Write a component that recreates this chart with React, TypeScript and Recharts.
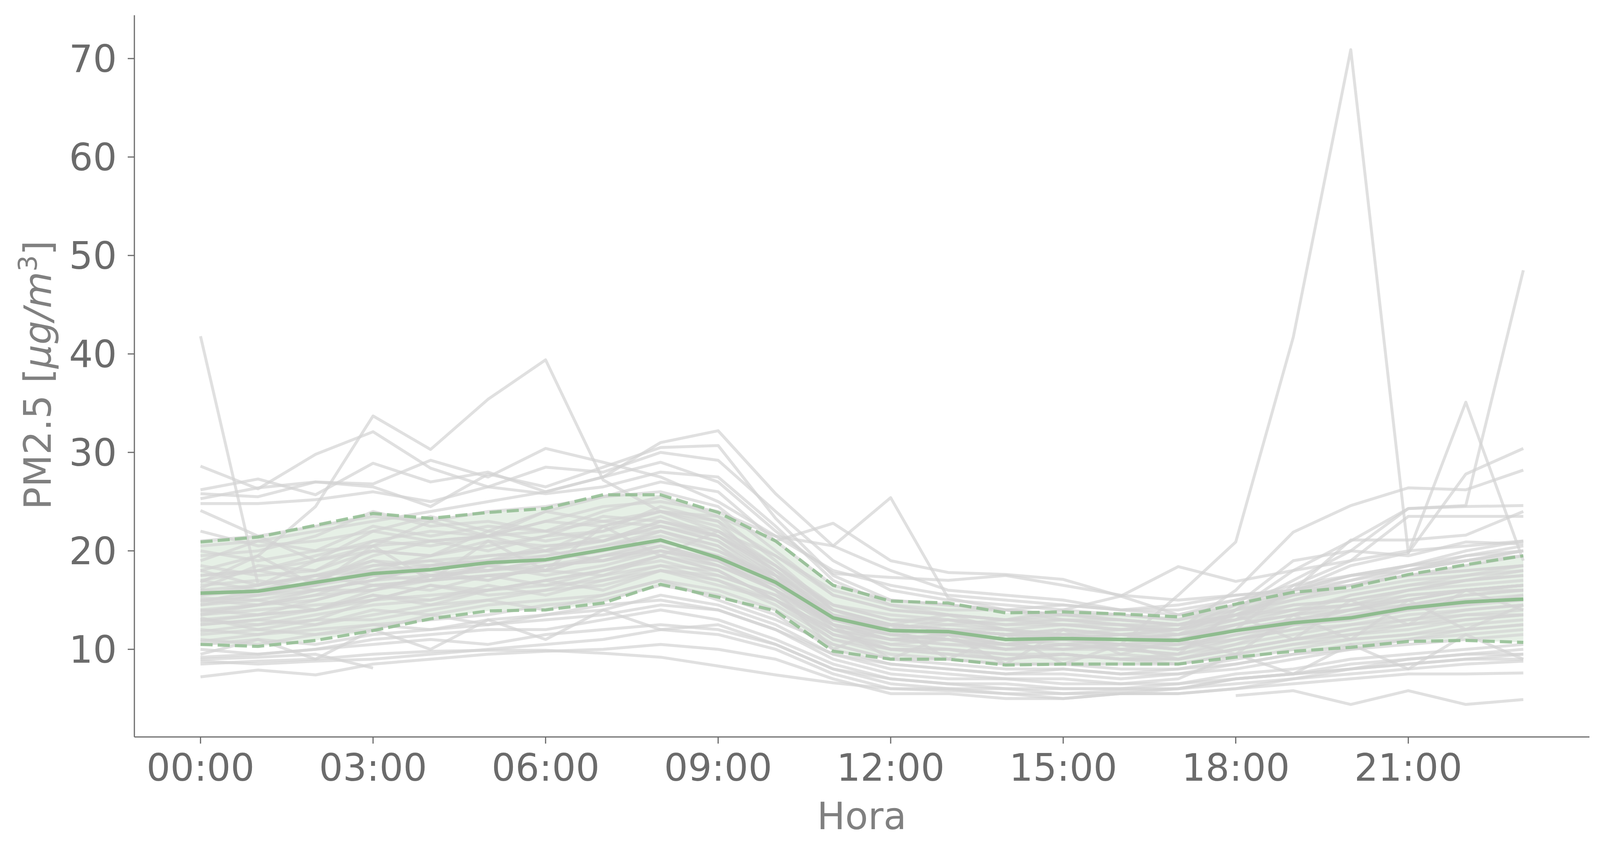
import React from 'react';
import { ComposedChart, Line, Area, XAxis, YAxis, Label } from 'recharts';

const N = null;

// hours of the day
const HOURS = [0, 1, 2, 3, 4, 5, 6, 7, 8, 9, 10, 11, 12, 13, 14, 15, 16, 17, 18, 19, 20, 21, 22, 23];
const HOUR_TICKS = [0, 3, 6, 9, 12, 15, 18, 21];
const TICK_LABELS = ['00:00', '03:00', '06:00', '09:00', '12:00', '15:00', '18:00', '21:00'];
const Y_TICKS = [10, 20, 30, 40, 50, 60, 70];

// hourly mean and mean +/- std
const MEAN = [15.7, 15.9, 16.8, 17.7, 18.1, 18.8, 19.1, 20.1, 21.1, 19.3, 16.8, 13.2, 11.9, 11.8, 11.0, 11.1, 11.0, 10.9, 11.9, 12.7, 13.2, 14.2, 14.8, 15.1];
const UPPER = [20.9, 21.4, 22.6, 23.8, 23.3, 23.9, 24.3, 25.7, 25.7, 23.9, 21.0, 16.5, 14.9, 14.7, 13.7, 13.8, 13.6, 13.3, 14.6, 15.8, 16.3, 17.6, 18.6, 19.5];
const LOWER = [10.5, 10.3, 10.9, 11.9, 13.1, 13.9, 14.0, 14.7, 16.6, 15.3, 13.9, 9.8, 9.0, 9.0, 8.4, 8.5, 8.5, 8.5, 9.2, 9.8, 10.2, 10.8, 10.9, 10.7];

// one row per day
const DAYS: (number | null)[][] = [
  [41.8, 16.6, 17.5, 19.0, 18.5, 19.5, 20.0, 21.5, 22.0, 20.5, 17.0, 12.5, 11.5, 11.0, 10.0, 10.5, 10.0, 9.5, 11.0, 12.0, 12.5, 13.5, 14.0, 14.5],
  [18.0, 19.5, 24.5, 33.7, 30.3, 35.4, 39.4, 27.2, 24.0, 22.5, 18.5, 14.0, 12.5, 12.0, 11.5, 11.0, 11.5, 11.0, 12.5, 13.5, 14.0, 15.0, 16.0, 16.5],
  [28.6, 26.3, 29.8, 32.1, 28.4, 26.5, 25.8, 26.5, 28.0, 27.5, 22.5, 17.0, 14.5, 13.5, 13.0, 13.0, 12.5, 12.0, 13.5, 15.5, 16.5, 18.0, 19.5, 20.0],
  [26.2, 27.3, 25.7, 28.9, 27.0, 28.0, 26.0, 27.5, 31.0, 32.2, 25.8, 20.5, 18.0, 16.0, 15.5, 15.0, 14.0, 13.5, 15.0, 16.0, 17.5, 18.5, 19.0, 19.5],
  [25.8, 25.5, 27.0, 26.5, 24.5, 27.8, 26.5, 28.5, 30.5, 30.7, 23.3, 17.5, 15.0, 14.5, 14.0, 13.0, 13.0, 12.5, 14.0, 15.5, 16.5, 17.5, 18.0, 18.5],
  [25.3, 26.4, 27.0, 26.8, 29.2, 27.5, 30.4, 29.0, 27.5, 25.0, 21.5, 18.0, 16.5, 15.5, 15.0, 14.5, 14.0, 14.5, 15.5, 16.0, 17.0, 18.5, 20.0, 21.0],
  [24.8, 24.8, 25.2, 26.0, 25.0, 26.5, 28.5, 28.0, 30.0, 29.2, 24.0, 19.0, 16.0, 15.0, 14.5, 14.0, 13.5, 13.0, 14.0, 15.0, 16.0, 17.0, 17.5, 18.0],
  [24.1, 21.5, 19.0, 22.0, 23.5, 22.0, 24.0, 25.5, 27.0, 26.0, 21.0, 22.8, 19.0, 17.8, 17.6, 17.1, 15.4, 13.5, 14.5, 15.5, 17.0, 18.0, 19.0, 20.0],
  [17.0, 18.0, 19.5, 21.0, 22.0, 21.5, 23.0, 24.5, 25.0, 24.0, 21.5, 20.5, 25.4, 15.2, 14.0, 13.5, 13.0, 12.5, 13.5, 14.5, 15.0, 16.0, 16.5, 17.0],
  [14.0, 14.5, 15.0, 16.5, 17.0, 17.5, 18.0, 19.5, 20.5, 19.0, 16.5, 14.0, 12.0, 12.5, 13.0, 14.0, 15.4, 18.4, 16.9, 18.0, 19.0, 20.0, 20.5, 21.0],
  [13.0, 13.5, 14.0, 15.0, 15.5, 16.0, 16.5, 17.0, 18.0, 17.0, 15.0, 12.0, 11.0, 10.5, 10.0, 10.0, 10.5, 15.5, 20.9, 41.7, 70.9, 19.8, 35.1, 19.0],
  [15.0, 15.5, 16.0, 17.0, 17.5, 18.0, 18.5, 19.0, 20.0, 19.0, 16.0, 13.0, 12.5, 12.0, 11.5, 11.5, 11.0, 11.5, 14.0, 18.0, 21.0, 24.3, 24.6, 48.5],
  [16.0, 16.5, 17.5, 18.5, 19.0, 19.5, 20.0, 21.0, 22.5, 21.0, 17.5, 14.0, 12.5, 12.0, 11.5, 11.0, 11.5, 12.0, 13.5, 16.0, 18.5, 19.8, 27.8, 30.4],
  [17.5, 18.0, 19.0, 20.5, 21.0, 21.5, 22.0, 23.0, 24.0, 23.0, 19.5, 15.5, 14.0, 13.5, 13.0, 12.5, 12.0, 12.0, 16.0, 21.9, 24.6, 26.4, 26.2, 28.2],
  [12.5, 13.0, 14.0, 15.5, 15.0, 16.0, 17.0, 18.0, 19.5, 18.0, 15.0, 11.5, 10.0, 10.0, 9.5, 9.5, 9.0, 9.5, 14.0, 17.0, 20.0, 24.3, 24.5, 24.6],
  [13.5, 14.5, 15.5, 16.0, 17.5, 17.0, 18.5, 19.5, 20.0, 19.0, 16.0, 12.5, 11.5, 11.0, 10.5, 11.0, 10.5, 10.0, 12.0, 16.5, 19.0, 23.5, 23.5, 23.5],
  [14.5, 15.5, 16.5, 17.5, 17.0, 18.5, 19.5, 20.5, 22.0, 20.0, 17.0, 13.0, 12.0, 11.5, 11.0, 11.0, 11.0, 11.5, 13.0, 16.0, 21.1, 21.1, 21.6, 24.0],
  [15.5, 16.0, 16.5, 18.0, 18.5, 19.0, 20.5, 21.0, 23.0, 21.5, 18.5, 14.0, 12.5, 12.0, 12.0, 11.5, 11.5, 12.0, 14.5, 19.0, 20.0, 19.5, 20.9, 20.7],
  [N, N, N, N, N, N, N, N, N, N, N, N, N, N, N, N, N, N, 5.3, 5.8, 4.4, 5.8, 4.4, 4.9],
  [9.0, 9.2, 9.5, 8.1, N, N, N, N, N, N, N, N, N, N, N, N, N, N, N, N, N, N, N, N],
  [7.2, 7.9, 7.4, 8.5, 9.0, 9.5, 9.8, 10.0, 10.5, 10.0, 9.0, 7.0, 5.5, 5.5, 5.0, 5.0, 5.5, 5.5, 6.0, 6.5, 7.0, 7.5, 7.5, 7.6],
  [8.5, 8.8, 9.0, 9.5, 9.8, 9.9, 9.9, 9.6, 9.2, 8.3, 7.4, 6.6, 6.0, 5.8, 5.5, 5.5, 5.8, 6.0, 7.0, 7.5, 8.0, 8.5, 9.0, 9.0],
  [21.0, 21.5, 22.5, 23.5, 23.0, 24.0, 24.5, 25.5, 26.0, 24.5, 20.0, 15.5, 14.0, 13.5, 13.0, 13.5, 13.0, 12.5, 13.5, 15.0, 16.5, 17.5, 18.5, 19.5],
  [19.5, 20.0, 21.5, 24.0, 22.5, 23.0, 22.0, 24.0, 25.5, 23.5, 19.0, 14.0, 12.5, 12.0, 11.5, 12.0, 11.5, 11.0, 12.5, 14.0, 15.5, 16.5, 17.0, 17.5],
  [18.5, 17.5, 18.0, 21.0, 20.5, 21.5, 23.0, 22.5, 24.0, 22.0, 18.5, 14.5, 13.0, 12.5, 12.0, 11.5, 12.0, 12.5, 13.0, 14.5, 15.0, 16.0, 17.0, 18.0],
  [17.5, 18.0, 17.0, 19.5, 21.0, 20.0, 21.5, 23.5, 23.0, 21.5, 18.0, 13.5, 12.0, 13.0, 12.0, 11.0, 10.5, 11.0, 12.0, 13.0, 14.0, 15.5, 16.0, 16.5],
  [17.0, 16.0, 17.5, 18.0, 19.5, 21.0, 20.5, 21.0, 22.5, 21.0, 17.0, 13.0, 11.5, 11.0, 10.5, 10.0, 10.5, 10.0, 11.5, 12.5, 13.5, 14.5, 15.0, 15.5],
  [16.5, 17.0, 16.0, 17.0, 18.5, 19.0, 19.5, 20.5, 21.5, 20.0, 17.5, 14.5, 13.5, 13.0, 12.5, 12.5, 12.0, 12.0, 13.0, 14.0, 14.5, 16.0, 17.0, 17.5],
  [16.0, 15.5, 17.0, 19.0, 17.5, 18.0, 19.0, 20.0, 22.0, 20.5, 16.5, 12.5, 11.0, 11.5, 10.5, 11.0, 10.5, 10.5, 13.5, 11.0, 15.0, 12.5, 16.0, 14.0],
  [15.5, 16.5, 17.5, 16.5, 17.0, 18.5, 18.0, 19.5, 21.0, 19.5, 17.0, 13.5, 12.0, 11.5, 11.0, 11.5, 11.0, 11.5, 12.0, 13.0, 13.0, 14.5, 15.5, 16.0],
  [15.0, 14.5, 15.5, 17.5, 18.0, 17.0, 18.5, 19.0, 20.5, 19.0, 16.0, 10.0, 12.5, 9.0, 11.5, 8.5, 10.5, 9.0, 10.5, 11.5, 12.5, 13.0, 14.0, 14.5],
  [14.5, 15.0, 14.0, 16.0, 17.5, 18.5, 17.5, 18.5, 20.0, 18.5, 16.5, 13.0, 11.5, 12.0, 11.0, 10.5, 11.0, 10.5, 11.0, 12.0, 13.5, 14.0, 15.0, 15.0],
  [14.0, 13.5, 15.0, 16.5, 16.0, 17.5, 18.0, 17.5, 19.5, 18.0, 15.0, 11.5, 10.5, 10.0, 9.0, 9.5, 9.0, 9.0, 10.0, 11.0, 12.0, 12.5, 13.5, 14.0],
  [13.5, 14.0, 14.5, 15.0, 16.5, 16.0, 17.0, 18.0, 19.0, 17.5, 15.5, 12.5, 9.0, 11.5, 8.5, 12.0, 9.5, 11.0, 9.5, 13.5, 11.0, 15.0, 12.0, 14.5],
  [13.0, 12.5, 13.5, 14.5, 15.0, 16.5, 15.5, 17.0, 18.5, 17.0, 14.5, 11.0, 9.5, 9.0, 8.5, 8.5, 8.0, 8.0, 9.0, 10.0, 11.0, 11.5, 12.5, 13.0],
  [12.5, 13.0, 12.5, 13.5, 14.5, 15.0, 16.0, 16.5, 18.0, 16.5, 15.0, 12.0, 10.0, 9.5, 9.0, 9.5, 9.0, 8.5, 9.5, 10.5, 11.5, 12.0, 13.0, 13.5],
  [12.0, 11.5, 12.5, 14.0, 13.5, 14.5, 15.0, 15.5, 17.0, 16.0, 14.0, 10.5, 9.0, 8.5, 8.0, 8.0, 7.5, 8.0, 8.5, 9.5, 10.5, 11.0, 12.0, 12.5],
  [11.5, 12.0, 11.5, 12.5, 13.0, 13.5, 14.5, 15.0, 16.5, 15.5, 13.5, 10.0, 8.5, 8.0, 7.5, 7.5, 7.0, 7.5, 8.0, 9.0, 10.0, 10.5, 11.0, 11.5],
  [11.0, 10.5, 11.5, 12.0, 13.5, 12.5, 13.5, 14.0, 15.5, 14.5, 12.5, 9.5, 8.0, 7.5, 7.0, 7.0, 6.5, 7.0, 9.5, 7.5, 10.5, 8.0, 11.5, 9.0],
  [10.5, 11.0, 10.5, 11.5, 12.0, 12.5, 13.0, 13.5, 14.5, 14.0, 12.0, 9.0, 7.5, 7.0, 7.0, 6.5, 6.5, 6.5, 7.5, 8.0, 9.0, 9.5, 10.0, 10.5],
  [10.0, 9.5, 10.0, 11.0, 11.5, 12.0, 12.0, 13.0, 14.0, 13.0, 11.0, 8.5, 7.0, 6.5, 6.0, 6.0, 6.0, 6.5, 7.0, 7.5, 8.5, 9.0, 9.5, 10.0],
  [9.5, 11.0, 9.0, 12.0, 10.0, 13.0, 11.0, 14.0, 12.0, 12.5, 10.5, 8.0, 6.5, 6.0, 6.0, 5.5, 5.5, 6.0, 6.5, 7.0, 8.0, 8.5, 9.0, 9.5],
  [8.8, 8.5, 8.8, 9.0, 9.5, 10.0, 10.5, 11.0, 12.0, 11.5, 10.0, 7.5, 6.0, 6.0, 5.5, 5.0, 5.5, 5.5, 6.0, 7.0, 7.5, 8.0, 8.5, 8.8],
  [20.0, 19.0, 20.0, 22.5, 21.5, 22.5, 22.0, 21.0, 23.0, 22.0, 19.5, 16.0, 14.5, 14.0, 14.0, 13.5, 13.5, 13.0, 14.5, 16.0, 17.5, 18.0, 19.0, 20.0],
  [19.0, 21.0, 20.0, 20.5, 23.0, 21.5, 24.0, 23.0, 22.5, 21.5, 18.0, 13.0, 12.5, 13.5, 12.0, 12.5, 12.5, 11.5, 12.5, 13.5, 15.5, 16.5, 17.5, 18.5],
  [18.0, 16.5, 19.0, 20.0, 19.5, 22.0, 21.0, 22.0, 24.5, 23.0, 17.5, 12.0, 10.5, 11.0, 10.0, 10.5, 10.0, 9.5, 10.5, 12.5, 14.0, 14.5, 15.5, 16.0],
  [16.8, 19.5, 16.5, 20.5, 17.0, 21.0, 18.0, 22.5, 19.5, 22.0, 18.0, 14.5, 13.0, 13.0, 12.5, 13.0, 12.5, 12.5, 13.5, 14.0, 14.5, 15.0, 16.0, 16.5],
  [15.2, 15.0, 16.0, 17.0, 18.5, 19.0, 20.0, 19.0, 20.5, 18.5, 16.0, 12.0, 11.0, 10.5, 10.5, 10.0, 10.0, 10.5, 11.5, 12.5, 13.0, 14.0, 14.5, 15.5],
  [14.8, 16.0, 16.5, 18.5, 19.0, 18.0, 19.0, 20.0, 21.0, 19.5, 17.5, 13.5, 12.5, 12.0, 11.5, 12.0, 11.5, 11.5, 12.5, 13.5, 14.5, 15.5, 16.0, 16.5],
  [13.8, 14.5, 16.0, 16.0, 17.0, 17.5, 16.5, 18.0, 19.5, 18.5, 16.0, 12.5, 11.0, 11.0, 10.0, 10.5, 10.5, 10.0, 11.0, 12.5, 13.0, 14.0, 14.5, 15.0],
  [12.8, 13.5, 14.0, 15.5, 14.5, 16.0, 17.0, 16.0, 18.0, 17.5, 15.5, 11.5, 10.0, 10.0, 9.5, 9.0, 9.5, 9.0, 10.0, 11.0, 11.5, 12.5, 13.0, 13.5],
  [11.8, 12.5, 13.0, 13.0, 14.0, 15.0, 14.0, 15.5, 17.0, 15.0, 13.0, 10.5, 9.0, 9.0, 8.5, 8.5, 8.5, 8.5, 9.5, 10.5, 11.0, 11.5, 12.0, 12.5],
  [10.8, 11.5, 12.0, 12.5, 12.0, 13.0, 13.5, 14.5, 15.0, 14.0, 12.0, 9.5, 8.5, 8.0, 7.5, 8.0, 7.5, 7.5, 8.5, 9.5, 10.0, 11.0, 11.5, 12.0],
  [9.2, 9.5, 10.0, 10.5, 11.0, 10.5, 11.5, 12.0, 12.5, 12.0, 10.5, 8.0, 7.0, 6.5, 6.5, 6.0, 6.0, 6.0, 7.0, 7.5, 8.0, 9.0, 9.5, 9.5],
  [16.2, 18.5, 18.0, 20.0, 19.5, 20.5, 21.5, 22.0, 23.5, 21.5, 17.5, 12.5, 11.0, 11.5, 10.5, 11.5, 11.0, 11.0, 12.0, 13.0, 14.0, 15.0, 16.0, 16.0],
  [13.2, 12.0, 13.0, 15.0, 16.5, 15.5, 16.0, 17.5, 18.5, 18.0, 15.0, 11.0, 10.0, 9.5, 9.0, 9.5, 9.0, 9.0, 10.0, 11.0, 12.0, 13.0, 13.5, 13.5],
  [22.0, 20.5, 21.0, 22.0, 21.0, 21.5, 20.0, 22.5, 24.0, 23.5, 21.0, 16.5, 15.0, 14.5, 14.0, 14.5, 14.0, 14.0, 15.0, 16.5, 17.5, 18.5, 19.5, 20.5],
  [20.5, 21.0, 22.0, 23.0, 24.0, 25.0, 26.0, 27.5, 29.0, 27.0, 22.0, 17.7, 17.3, 17.0, 17.5, 16.5, 15.5, 15.0, 15.5, 16.0, 16.5, 17.5, 18.0, 18.5],
];

const data = HOURS.map((h, i) => {
  const row: Record<string, any> = { hour: h, mean: MEAN[i], upper: UPPER[i], lower: LOWER[i], band: [LOWER[i], UPPER[i]] };
  DAYS.forEach((d, k) => { row['d' + k] = d[i]; });
  return row;
});

const FONT = '"DejaVu Sans", sans-serif';
const AXIS = '#6b6b6b';
const GREEN = '#8fbc8f';

const YTitle = () => (
  <text x={130} y={960} transform="rotate(-90, 130, 960)" textAnchor="middle" fontFamily={FONT} fontSize={96} fill="#808080">
    PM2.5 [<tspan fontStyle="italic">μg/m</tspan><tspan dy={-36} fontSize={66}>3</tspan><tspan dy={36}>]</tspan>
  </text>
);

const XTitle = () => (
  <text x={2206} y={2122} textAnchor="middle" fontFamily={FONT} fontSize={96} fill="#808080">Hora</text>
);

export default function App() {
  return (
    <div style={{ position: 'absolute', left: 0, top: 0, width: 4103, height: 2183, background: '#fff' }}>
      <ComposedChart width={4103} height={2183} data={data} margin={{ top: 39, right: 34, left: 0, bottom: 0 }}>
        <XAxis
          dataKey="hour"
          type="number"
          domain={[-1.15, 24.15]}
          allowDataOverflow
          ticks={HOUR_TICKS}
          tickFormatter={(v: number) => TICK_LABELS[HOUR_TICKS.indexOf(v)]}
          height={297}
          tickSize={17}
          tickMargin={27}
          stroke={AXIS}
          axisLine={{ stroke: AXIS, strokeWidth: 3 }}
          tickLine={{ stroke: AXIS, strokeWidth: 3 }}
          tick={{ fill: AXIS, fontSize: 96, fontFamily: FONT }}
        >
          <Label content={XTitle} />
        </XAxis>
        <YAxis
          type="number"
          domain={[1.1, 74.4]}
          allowDataOverflow
          ticks={Y_TICKS}
          width={344}
          tickSize={17}
          tickMargin={28}
          stroke={AXIS}
          axisLine={{ stroke: AXIS, strokeWidth: 3 }}
          tickLine={{ stroke: AXIS, strokeWidth: 3 }}
          tick={{ fill: AXIS, fontSize: 96, fontFamily: FONT }}
        >
          <Label content={YTitle} />
        </YAxis>
        <Area
          dataKey="band"
          stroke="none"
          fill={GREEN}
          fillOpacity={0.22}
          isAnimationActive={false}
          activeDot={false}
        />
        {DAYS.map((_, k) => (
          <Line
            key={k}
            dataKey={'d' + k}
            stroke="#d3d3d3"
            strokeOpacity={0.7}
            strokeWidth={7.5}
            strokeLinejoin="round"
            dot={false}
            activeDot={false}
            isAnimationActive={false}
          />
        ))}
        <Line dataKey="upper" stroke={GREEN} strokeOpacity={0.85} strokeWidth={8} strokeDasharray="31 13" dot={false} activeDot={false} isAnimationActive={false} />
        <Line dataKey="lower" stroke={GREEN} strokeOpacity={0.85} strokeWidth={8} strokeDasharray="31 13" dot={false} activeDot={false} isAnimationActive={false} />
        <Line dataKey="mean" stroke={GREEN} strokeWidth={9} strokeLinejoin="round" dot={false} activeDot={false} isAnimationActive={false} />
      </ComposedChart>
    </div>
  );
}
